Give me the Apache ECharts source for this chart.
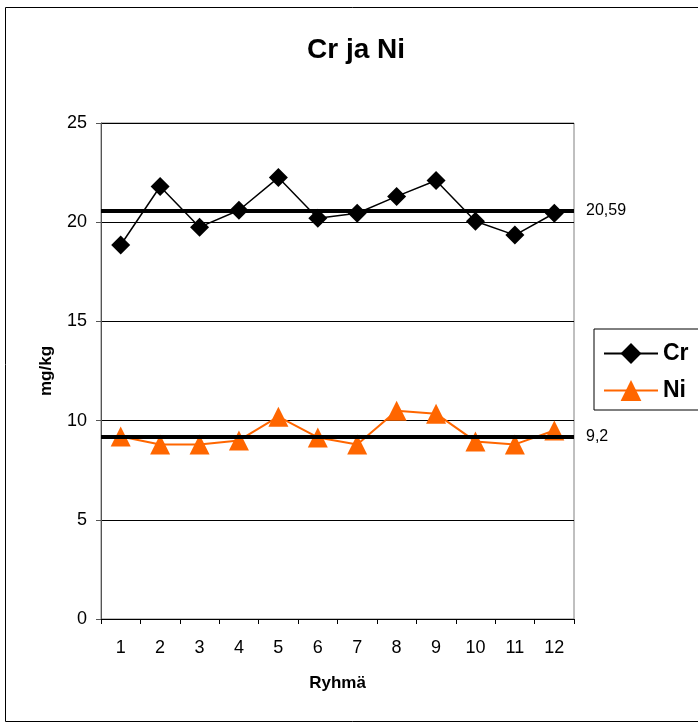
<!DOCTYPE html>
<html>
<head>
<meta charset="utf-8">
<script src="https://cdn.jsdelivr.net/npm/echarts@6/dist/echarts.min.js"></script>
<style>
  html, body { margin: 0; padding: 0; background: #fff; }
  #chart { width: 698px; height: 724px; }
</style>
</head>
<body>
<div id="chart"></div>
<script>
const groups = ['1', '2', '3', '4', '5', '6', '7', '8', '9', '10', '11', '12'];
const crValues = [18.85, 21.8, 19.75, 20.6, 22.25, 20.2, 20.45, 21.3, 22.1, 20.05, 19.35, 20.45];
const niValues = [9.2, 8.8, 8.8, 9.0, 10.2, 9.15, 8.8, 10.5, 10.35, 8.95, 8.8, 9.5];
const crMean = 20.59;
const niMean = 9.2;
const yTicks = { min: 0, max: 25, interval: 5 };

const font = 'Liberation Sans, Arial, sans-serif';
const chart = echarts.init(document.getElementById('chart'));

const meanLine = (value, label) => ({
  silent: true,
  symbol: 'none',
  lineStyle: { color: '#000', width: 4, type: 'solid' },
  label: {
    show: true, position: 'end', distance: 12,
    formatter: label, color: '#000', fontSize: 16, fontFamily: font
  },
  data: [{ yAxis: value }]
});

chart.setOption({
  animation: false,
  textStyle: { fontFamily: font },
  title: {
    text: 'Cr ja Ni',
    left: 351, top: 31, textAlign: 'center',
    textStyle: { fontSize: 28, fontWeight: 'bold', color: '#000', fontFamily: font }
  },
  graphic: [{
    type: 'rect',
    shape: { x: 5.5, y: 7.5, width: 720, height: 714 },
    style: { fill: 'none', stroke: '#000', lineWidth: 1 },
    silent: true
  }],
  legend: {
    orient: 'vertical',
    left: 594, top: 329,
    padding: [13, 10, 8, 9],
    itemGap: 14,
    itemWidth: 54, itemHeight: 26,
    backgroundColor: '#fff',
    borderColor: '#000', borderWidth: 1, borderRadius: 0,
    textStyle: { fontSize: 23, fontWeight: 'bold', color: '#000', fontFamily: font },
    data: ['Cr', 'Ni']
  },
  grid: {
    left: 101, right: 124, top: 123, bottom: 105,
    show: true, borderColor: '#808080', borderWidth: 1, backgroundColor: '#fff'
  },
  xAxis: {
    type: 'category',
    data: groups,
    boundaryGap: true,
    name: 'Ryhmä',
    nameLocation: 'middle',
    nameGap: 56,
    nameTextStyle: { fontSize: 17, fontWeight: 'bold', color: '#000', fontFamily: font },
    axisLine: { lineStyle: { color: '#000', width: 1 } },
    axisTick: { show: true, length: 5, lineStyle: { color: '#000' } },
    axisLabel: { fontSize: 18, color: '#000', margin: 20, fontFamily: font }
  },
  yAxis: {
    type: 'value',
    min: yTicks.min, max: yTicks.max, interval: yTicks.interval,
    name: 'mg/kg',
    nameLocation: 'middle',
    nameGap: 46,
    nameTextStyle: { fontSize: 17, fontWeight: 'bold', color: '#000', fontFamily: font },
    axisLine: { show: true, lineStyle: { color: '#555', width: 1 } },
    axisTick: { show: true, length: 5, lineStyle: { color: '#555' } },
    axisLabel: { fontSize: 18, color: '#000', margin: 14, fontFamily: font },
    splitLine: { show: true, lineStyle: { color: '#000', width: 1 } }
  },
  series: [
    {
      name: 'Cr',
      type: 'line',
      data: crValues,
      symbol: 'diamond',
      symbolSize: 19,
      itemStyle: { color: '#000' },
      lineStyle: { color: '#000', width: 1.5 },
      markLine: meanLine(crMean, '20,59'),
      z: 3
    },
    {
      name: 'Ni',
      type: 'line',
      data: niValues,
      symbol: 'triangle',
      symbolSize: 20,
      itemStyle: { color: '#FF6600' },
      lineStyle: { color: '#FF6600', width: 2 },
      markLine: meanLine(niMean, '9,2'),
      z: 3
    }
  ]
});
</script>
</body>
</html>
